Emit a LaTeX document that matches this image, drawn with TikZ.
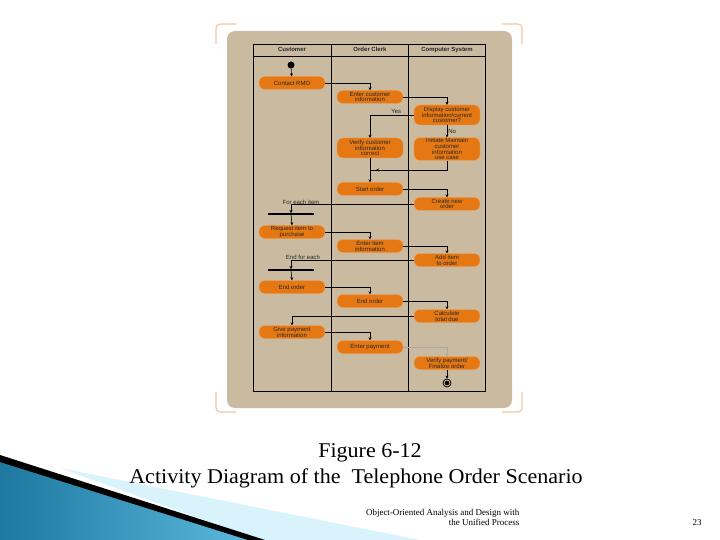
\documentclass[tikz,border=0pt]{standalone}
\usepackage{fontspec}
\setmainfont{Liberation Serif}
\newfontfamily\lab{Liberation Sans}
\usetikzlibrary{arrows.meta}
\definecolor{tan}{RGB}{202,187,160}
\definecolor{act}{RGB}{230,120,20}
\definecolor{brk}{RGB}{240,200,160}
\definecolor{teal1}{RGB}{30,120,160}
\definecolor{teal2}{RGB}{90,185,220}
\begin{document}
\begin{tikzpicture}[x=1pt,y=-1pt,
 actbox/.style={draw=act!70!white,fill=act,rounded corners=6pt,minimum width=66pt,minimum height=13pt,inner sep=0.5pt,align=center,font=\lab\fontsize{6}{5.8}\selectfont,text=black!85},
 flow/.style={draw=black,line width=0.6pt,-{Stealth[length=3pt,width=3pt]}},
 seg/.style={draw=black,line width=0.6pt},
 lbl/.style={font=\lab\fontsize{6}{6}\selectfont,text=black!85,inner sep=1pt},
 hdr/.style={lbl,font=\lab\bfseries\fontsize{6}{6}\selectfont,text height=4.5pt,text depth=1.3pt}]
\useasboundingbox (0,0) rectangle (720,540);
\fill[white] (0,0) rectangle (720,540);
% swoosh
\fill[cyan!15] (60,468) -- (420,540) -- (260,540) -- cycle;
\shade[left color=teal1, right color=teal2] (0,460) -- (250,540) -- (0,540) -- cycle;
\fill[black] (0,455) -- (265,540) -- (248,540) -- (0,462) -- cycle;
% brackets
\draw[brk,line width=1.2pt,rounded corners=4pt] (216,44) -- (216,24) -- (236,24);
\draw[brk,line width=1.2pt,rounded corners=4pt] (502,24) -- (522,24) -- (522,44);
\draw[brk,line width=1.2pt,rounded corners=4pt] (216,392) -- (216,412) -- (236,412);
\draw[brk,line width=1.2pt,rounded corners=4pt] (502,412) -- (522,412) -- (522,392);
% panel
\fill[tan,rounded corners=8pt] (227,31) rectangle (512,408);
\draw[black,line width=0.6pt] (253,44) rectangle (485,391);
\draw[black,line width=0.6pt] (253,56) -- (485,56) (331,44) -- (331,391) (408,44) -- (408,391);
\node[hdr] (h1) at (292,50) {Customer};
\node[hdr] (h2) at (370,50) {Order Clerk};
\node[hdr] (h3) at (447,50) {Computer System};
% nodes
\node[circle,fill=black,inner sep=0,minimum size=7pt] (st) at (291,65) {};
\node[actbox] (a1) at (292,83) {Contact RMO};
\node[actbox] (b1) at (370,97) {Enter customer\\information};
\node[actbox,minimum height=20pt] (c1) at (447,115) {Display customer\\information/current\\customer?};
\node[actbox,minimum height=20pt] (b2) at (370,148) {Verify customer\\information\\correct};
\node[actbox,minimum height=22pt] (c2) at (447,149) {Initiate Maintain\\customer\\information\\use case};
\node[actbox] (b3) at (370,189) {Start order};
\node[actbox] (c3) at (447,204) {Create new\\order};
\node[fill=black,minimum width=46pt,minimum height=1.5pt,inner sep=0] (f1) at (291,214) {};
\node[actbox] (a2) at (292,232) {Request item to\\purchase};
\node[actbox] (b4) at (370,246) {Enter item\\information};
\node[actbox] (c4) at (447,260) {Add item\\to order};
\node[fill=black,minimum width=46pt,minimum height=1.5pt,inner sep=0] (f2) at (291,270) {};
\node[actbox] (a3) at (292,287) {End order};
\node[actbox] (b5) at (370,301) {End order};
\node[actbox] (c5) at (447,316) {Calculate\\total due};
\node[actbox] (a4) at (292,332) {Give payment\\information};
\node[actbox] (b6) at (370,347) {Enter payment};
\node[actbox] (c6) at (447,363) {Verify payment/\\Finalize order};
\node[circle,draw=black,line width=0.8pt,inner sep=0,minimum size=8pt] (en) at (447,383) {};
\fill[black] (en) circle (2.3pt);
\node[lbl] (l1) at (301,202) {For each item};
\node[lbl] (l2) at (303,257) {End for each};
% connectors
\draw[flow] (st) -- (a1);
\draw[flow] (a1.east) -| (b1.north);
\draw[flow] (b1.east) -| (c1.north);
\draw[flow] (c1.west) -| (b2.north) node[pos=0.2,above,lbl] (y1) {Yes};
\draw[flow] (c1.south) -- (c2.north) node[midway,right,lbl] (n1) {No};
\coordinate (m1) at (370,170);
\draw[seg] (c2.south) |- (m1);
\draw[flow] (447,170) -- (376,170);
\draw[flow] (b2.south) -- (b3.north);
\draw[flow] (b3.east) -| (c3.north);
\draw[flow] (c3.west) -| (f1.north);
\draw[flow] (f1) -- (a2.north);
\draw[flow] (a2.east) -| (b4.north);
\draw[flow] (b4.east) -| (c4.north);
\draw[flow] (c4.west) -| (f2.north);
\draw[flow] (f2) -- (a3.north);
\draw[flow] (a3.east) -| (b5.north);
\draw[flow] (b5.east) -| (c5.north);
\draw[flow] (c5.west) -| (a4.north);
\draw[flow] (a4.east) -| (b6.north);
\draw[flow,draw=gray!70,line width=0.4pt] (b6.east) -| (c6.north);
\draw[flow] (c6.south) -- (en.north);
% captions
\node[font=\fontsize{21}{22}\selectfont,xscale=1.05] (t1) at (370,453) {Figure 6-12};
\node[font=\fontsize{21}{22}\selectfont,xscale=1.05] (t2) at (356,478) {Activity Diagram of the\ \ Telephone Order Scenario};
\node[font=\fontsize{9}{10}\selectfont,align=right,anchor=north east] (t3) at (523,506) {Object-Oriented Analysis and Design with\\the Unified Process};
\node[font=\fontsize{9}{10}\selectfont] (t4) at (697,523) {23};
\end{tikzpicture}
\end{document}
